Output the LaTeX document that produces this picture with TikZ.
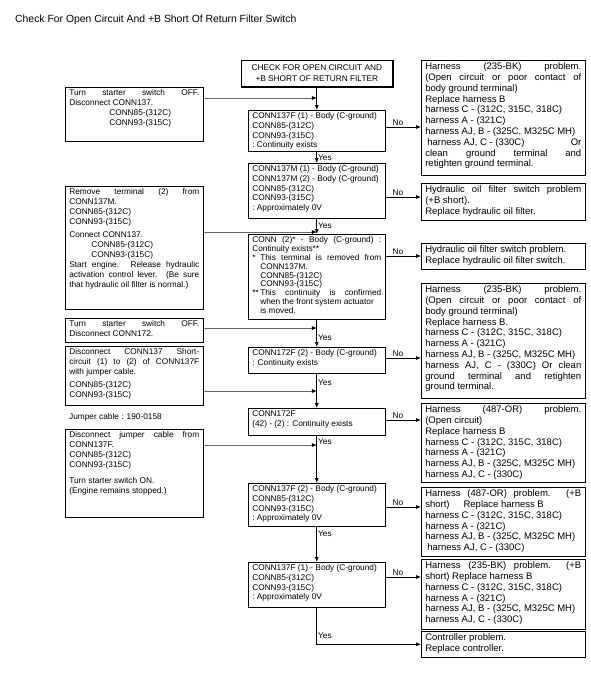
\documentclass[tikz,border=0pt]{standalone}
\usepackage{fontspec}
\setmainfont{Liberation Sans}
\usetikzlibrary{arrows.meta}
\newcommand\fntC{\fontsize{8.3}{9.6}\selectfont}
\newcommand\fntL{\fontsize{8.3}{10}\selectfont}
\newcommand\fntR{\fontsize{9.5}{10.8}\selectfont}
\newcommand\fntH{\fontsize{8.3}{10.5}\selectfont}
\newcommand\Jst[1]{\makebox[\linewidth][s]{#1}}
\newcommand\txtbox[3]{\parbox[t][#2pt][t]{#1pt}{#3}}
\begin{document}
\begin{tikzpicture}[x=1pt,y=-1pt,
  box/.style={draw, line width=0.6pt, anchor=north west, inner xsep=4pt, inner ysep=2.5pt},
  mainarrow/.style={line width=0.7pt, -{Latex[length=5pt,width=4pt]}},
  sidearrow/.style={line width=0.5pt, black!60, -{Latex[length=5pt,width=4pt,color=black]}},
  lbl/.style={font=\fntC, inner sep=1pt}]
\useasboundingbox (0,0) rectangle (591,675);
\fill[white] (0,0) rectangle (591,675);
\node[anchor=west, inner sep=0pt, font=\fontsize{10.4}{12}\selectfont] (title) at (15,20) {Check For Open Circuit And +B Short Of Return Filter Switch};
% header
\node[draw, fill=white, line width=0.6pt, anchor=north west, minimum width=151pt, minimum height=26pt, inner sep=0pt, align=center, font=\fntH] (hd) at (241,60) {CHECK FOR OPEN CIRCUIT AND\\+B SHORT OF RETURN FILTER};
\draw[line width=1.4pt, line cap=rect] ([shift={(1,1)}]hd.north east) -- ([shift={(1,1)}]hd.south east) -- ([shift={(1,1)}]hd.south west);
% left column
\node[box] (L1) at (65,87) {\txtbox{130}{49}{\fntL\Jst{Turn starter switch OFF.}\\Disconnect CONN137.\\\hspace*{40pt}CONN85-(312C)\\\hspace*{40pt}CONN93-(315C)}};
\node[box] (L2) at (65,186) {\txtbox{130}{118}{\fntL\Jst{Remove terminal (2) from}\\CONN137M.\\CONN85-(312C)\\CONN93-(315C)\\[3pt]Connect CONN137.\\\hspace*{22pt}CONN85-(312C)\\\hspace*{22pt}CONN93-(315C)\\\Jst{Start engine. Release hydraulic}\\\Jst{activation control lever. (Be sure}\\that hydraulic oil filter is normal.)}};
\node[box] (L3) at (65,318) {\txtbox{130}{19}{\fntL\Jst{Turn starter switch OFF.}\\Disconnect CONN172.}};
\node[box] (L4) at (65,346) {\txtbox{130}{54}{\fntL\Jst{Disconnect CONN137 Short-}\\\Jst{circuit (1) to (2) of CONN137F}\\with jumper cable.\\[3pt]CONN85-(312C)\\CONN93-(315C)}};
\node[anchor=west, inner sep=0pt, font=\fntL] (jc) at (69,417) {Jumper cable : 190-0158};
\node[box] (L5) at (65,429) {\txtbox{130}{83}{\fntL\Jst{Disconnect jumper cable from}\\CONN137F.\\CONN85-(312C)\\CONN93-(315C)\\[6pt]Turn starter switch ON.\\(Engine remains stopped.)}};
% center column
\node[box] (C1) at (248,110) {\txtbox{129}{36}{\fntC CONN137F (1) - Body (C-ground)\\CONN85-(312C)\\CONN93-(315C)\\: Continuity exists}};
\node[box] (C2) at (248,163) {\txtbox{129}{50}{\fntC CONN137M (1) - Body (C-ground)\\CONN137M (2) - Body (C-ground)\\CONN85-(312C)\\CONN93-(315C)\\: Approximately 0V}};
\node[box] (C3) at (248,234) {\txtbox{129}{80}{\fontsize{8.3}{8.8}\selectfont\Jst{CONN (2)* - Body (C-ground) :}\\Continuity exists**\\\makebox[8pt][l]{*}\makebox[121pt][s]{This terminal is removed from}\\\hspace*{8pt}CONN137M.\\\hspace*{8pt}CONN85-(312C)\\\hspace*{8pt}CONN93-(315C)\\\makebox[8pt][l]{**}\makebox[121pt][s]{This continuity is confirmed}\\\hspace*{8pt}when the front system actuator\\\hspace*{8pt}is moved.}};
\node[box] (C4) at (248,347) {\txtbox{129}{21}{\fntC CONN172F (2) - Body (C-ground)\\: Continuity exists}};
\node[box] (C5) at (248,408) {\txtbox{129}{22}{\fntC CONN172F\\(42) - (2) : Continuity exists}};
\node[box] (C6) at (248,483) {\txtbox{129}{38}{\fntC CONN137F (2) - Body (C-ground)\\CONN85-(312C)\\CONN93-(315C)\\: Approximately 0V}};
\node[box] (C7) at (248,562) {\txtbox{129}{40}{\fntC CONN137F (1) - Body (C-ground)\\CONN85-(312C)\\CONN93-(315C)\\: Approximately 0V}};
% right column
\node[box] (R1) at (421,60) {\txtbox{156}{110}{\fntR\Jst{Harness (235-BK) problem.}\\\Jst{(Open circuit or poor contact of}\\body ground terminal)\\Replace harness B\\harness C - (312C, 315C, 318C)\\harness A - (321C)\\harness AJ, B - (325C, M325C MH)\\\hspace*{2pt}harness AJ, C - (330C)\hfill Or\\\Jst{clean ground terminal and}\\retighten ground terminal.}};
\node[box] (R2) at (421,183) {\txtbox{156}{32}{\fntR\Jst{Hydraulic oil filter switch problem}\\(+B short).\\Replace hydraulic oil filter.}};
\node[box] (R3) at (421,243) {\txtbox{156}{21}{\fntR Hydraulic oil filter switch problem.\\Replace hydraulic oil filter switch.}};
\node[box] (R4) at (421,283) {\txtbox{156}{110}{\fntR\Jst{Harness (235-BK) problem.}\\\Jst{(Open circuit or poor contact of}\\body ground terminal)\\Replace harness B.\\harness C - (312C, 315C, 318C)\\harness A - (321C)\\harness AJ, B - (325C, M325C MH)\\\Jst{harness AJ, C - (330C) Or clean}\\\Jst{ground terminal and retighten}\\ground terminal.}};
\node[box] (R5) at (421,403) {\txtbox{156}{74}{\fntR\Jst{Harness (487-OR) problem.}\\(Open circuit)\\Replace harness B\\harness C - (312C, 315C, 318C)\\harness A - (321C)\\harness AJ, B - (325C, M325C MH)\\harness AJ, C - (330C)}};
\node[box] (R6) at (421,487) {\txtbox{156}{64}{\fntR\Jst{Harness (487-OR) problem. (+B}\\short)\hspace{14pt}Replace harness B\\harness C - (312C, 315C, 318C)\\harness A - (321C)\\harness AJ, B - (325C, M325C MH)\\\hspace*{2pt}harness AJ, C - (330C)}};
\node[box] (R7) at (421,559) {\txtbox{156}{65}{\fntR\Jst{Harness (235-BK) problem.\ \ (+B}\\short) Replace harness B\\harness C - (312C, 315C, 318C)\\harness A - (321C)\\harness AJ, B - (325C, M325C MH)\\harness AJ, C - (330C)}};
\node[box] (R8) at (421,631) {\txtbox{156}{21}{\fntR Controller problem.\\Replace controller.}};
% main flow
\draw[mainarrow] (hd.south) -- (C1.north);
\draw[mainarrow] (C1.south) -- node[lbl, right, pos=0.5] {Yes} (C2.north);
\draw[mainarrow] (C2.south) -- node[lbl, right, pos=0.45] {Yes} (C3.north);
\draw[mainarrow] (C3.south) -- node[lbl, right, pos=0.65] {Yes} (C4.north);
\draw[mainarrow] (C4.south) -- node[lbl, right, pos=0.25] {Yes} (C5.north);
\draw[mainarrow] (C5.south) -- node[lbl, right, pos=0.13] {Yes} (C6.north);
\draw[mainarrow] (C6.south) -- node[lbl, right, pos=0.2] {Yes} (C7.north);
\draw[mainarrow] (C7.south) |- node[lbl, right, pos=0.38] {Yes} (R8.west);
% side inputs
\draw[sidearrow] (L1.east |- 0,98) -- (C1.north |- 0,98);
\draw[sidearrow] (L2.east |- 0,232) -- (C3.north |- 0,232);
\draw[sidearrow] (L3.east |- 0,328) -- (C4.north |- 0,328);
\draw[sidearrow] (L4.east |- 0,391) -- (C5.north |- 0,391);
\draw[sidearrow] (L5.east |- 0,445) -- (C6.north |- 0,445);
% No branches
\draw[mainarrow] (C1.east |- 0,127) -- node[lbl, above, pos=0.35] {No} (R1.west |- 0,127);
\draw[mainarrow] (C2.east |- 0,197) -- node[lbl, above, pos=0.35] {No} (R2.west |- 0,197);
\draw[mainarrow] (C3.east |- 0,256) -- node[lbl, above, pos=0.35] {No} (R3.west |- 0,256);
\draw[mainarrow] (C4.east |- 0,358) -- node[lbl, above, pos=0.35] {No} (R4.west |- 0,358);
\draw[mainarrow] (C5.east |- 0,420) -- node[lbl, above, pos=0.35] {No} (R5.west |- 0,420);
\draw[mainarrow] (C6.east |- 0,507) -- node[lbl, above, pos=0.35] {No} (R6.west |- 0,507);
\draw[mainarrow] (C7.east |- 0,577) -- node[lbl, above, pos=0.35] {No} (R7.west |- 0,577);
\end{tikzpicture}
\end{document}
